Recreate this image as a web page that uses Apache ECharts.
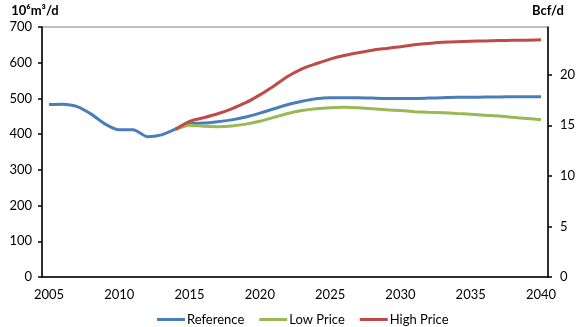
<!DOCTYPE html>
<html>
<head>
<meta charset="utf-8">
<script src="https://cdn.jsdelivr.net/npm/echarts@6/dist/echarts.min.js"></script>
<style>
  html, body { margin: 0; padding: 0; background: #fff; }
  #chart { width: 580px; height: 327px; }
</style>
</head>
<body>
<div id="chart"></div>
<script>
// years on the category axis
const years = [];
for (let y = 2005; y <= 2040; y++) years.push(String(y));

// 10^6 m3/d
const reference = [483, 484, 477, 456, 428, 412, 412, 393, 398, 414,
  429, 431, 435, 440, 448, 459, 471, 483, 492, 499,
  502, 502, 502, 501, 500, 500, 500, 501, 502, 503,
  503, 504, 504, 505, 505, 505];
const lowPrice = [null, null, null, null, null, null, null, null, null, 414,
  425, 422, 421, 423, 428, 436, 447, 458, 466, 471,
  474, 475, 474, 471, 468, 466, 463, 461, 460, 458,
  456, 453, 451, 447, 444, 440];
const highPrice = [null, null, null, null, null, null, null, null, null, 414,
  436, 446, 457, 471, 488, 510, 535, 562, 583, 597,
  610, 620, 628, 635, 640, 645, 650, 654, 657, 659,
  660, 661, 662, 663, 663, 664];

const leftTicks = [0, 100, 200, 300, 400, 500, 600, 700];
const rightTicks = [0, 5, 10, 15, 20];
const M3_PER_BCF = 28.317; // 10^6 m3 per Bcf

const font = 'Lato, "Open Sans", sans-serif';
const chart = echarts.init(document.getElementById('chart'));

const mkLine = (name, data, color) => ({
  name: name,
  type: 'line',
  data: data,
  yAxisIndex: 0,
  symbol: 'none',
  smooth: 0.2,
  connectNulls: false,
  lineStyle: { color: color, width: 3 },
  itemStyle: { color: color }
});

chart.setOption({
  animation: false,
  textStyle: { fontFamily: font },
  grid: {
    left: 42, right: 32, top: 27, bottom: 50,
    show: true, borderColor: '#7f7f7f', borderWidth: 1
  },
  legend: {
    left: 152, top: 308,
    icon: 'rect',
    itemWidth: 28, itemHeight: 3, itemGap: 15,
    textStyle: { fontFamily: font, fontSize: 13, color: '#000', padding: [0, 0, 0, -3] },
    data: ['Reference', 'Low Price', 'High Price']
  },
  xAxis: {
    type: 'category',
    data: years,
    boundaryGap: true,
    axisLine: { lineStyle: { color: '#000', width: 1.5 } },
    axisTick: { interval: 4, length: 5, lineStyle: { color: '#000', width: 1.5 } },
    axisLabel: { interval: 4, margin: 11, fontSize: 13, color: '#000', fontFamily: font },
    splitLine: { show: false }
  },
  yAxis: [{
    type: 'value',
    min: 0, max: 700,
    name: '10⁶m³/d',
    nameLocation: 'end',
    nameGap: 10,
    nameTextStyle: { fontWeight: 'bold', fontSize: 13, color: '#000', align: 'center', padding: [0, 0, 0, -14] },
    axisLine: { show: true, lineStyle: { color: '#000', width: 1.5 } },
    axisTick: { show: true, length: 4, customValues: leftTicks, lineStyle: { color: '#000', width: 1.5 } },
    axisLabel: { customValues: leftTicks, margin: 10, fontSize: 13, color: '#000', fontFamily: font },
    splitLine: { show: false }
  }, {
    type: 'value',
    position: 'right',
    min: 0, max: 700 / M3_PER_BCF,
    name: 'Bcf/d',
    nameLocation: 'end',
    nameGap: 10,
    nameTextStyle: { fontWeight: 'bold', fontSize: 13, color: '#000', align: 'center' },
    axisLine: { show: true, lineStyle: { color: '#000', width: 1.5 } },
    axisTick: { show: true, length: 4, customValues: rightTicks, lineStyle: { color: '#000', width: 1.5 } },
    axisLabel: { customValues: rightTicks, margin: 12, fontSize: 13, color: '#000', fontFamily: font },
    splitLine: { show: false }
  }],
  series: [
    mkLine('Reference', reference, '#4a7ebb'),
    mkLine('Low Price', lowPrice, '#98b954'),
    mkLine('High Price', highPrice, '#be4b48')
  ]
});
</script>
</body>
</html>
